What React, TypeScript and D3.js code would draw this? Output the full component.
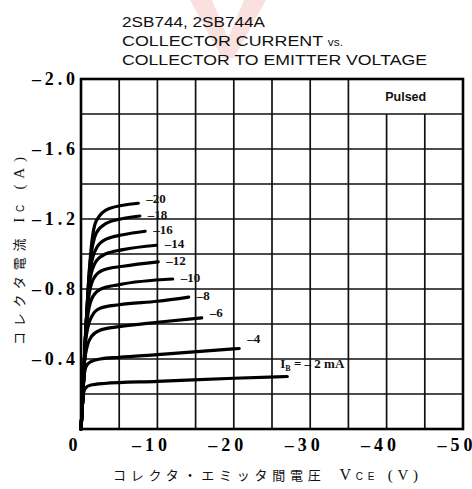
import React from "react";
import * as d3 from "d3";

// ---- data ----
const TITLE_LINES = ["2SB744, 2SB744A", "COLLECTOR CURRENT vs.", "COLLECTOR TO EMITTER VOLTAGE"];
const VCE_TICKS = [0, -10, -20, -30, -40, -50];
const VCE_GRID = [0, -5, -10, -15, -20, -25, -30, -35, -40, -45, -50];
const IC_TICKS = [-2.0, -1.6, -1.2, -0.8, -0.4];
const IC_GRID = [0, -0.2, -0.4, -0.6, -0.8, -1.0, -1.2, -1.4, -1.6, -1.8, -2.0];
const IB_LEVELS = [-2, -4, -6, -8, -10, -12, -14, -16, -18, -20];

const CURVE_IB2: [number, number][] = [[0, 0], [-0.15, -0.12], [-0.3, -0.2], [-0.6, -0.235], [-1.2, -0.25], [-3, -0.26], [-10, -0.272], [-20, -0.29], [-27, -0.3]];
const CURVE_IB4: [number, number][] = [[0, 0], [-0.2, -0.15], [-0.4, -0.3], [-0.7, -0.36], [-1.3, -0.385], [-2.5, -0.4], [-5, -0.41], [-10, -0.425], [-20.7, -0.46]];
const CURVE_IB6: [number, number][] = [[0, 0], [-0.2, -0.15], [-0.45, -0.38], [-0.8, -0.47], [-1.4, -0.53], [-2.5, -0.565], [-5, -0.585], [-10, -0.61], [-15.8, -0.635]];
const CURVE_IB8: [number, number][] = [[0, 0], [-0.2, -0.15], [-0.5, -0.45], [-0.9, -0.58], [-1.5, -0.65], [-2.5, -0.69], [-5, -0.71], [-10, -0.73], [-14.1, -0.754]];
const CURVE_IB10: [number, number][] = [[0, 0], [-0.2, -0.15], [-0.55, -0.5], [-1.0, -0.68], [-1.6, -0.76], [-2.6, -0.8], [-5, -0.825], [-12, -0.857]];
const CURVE_IB12: [number, number][] = [[0, 0], [-0.2, -0.15], [-0.6, -0.55], [-1.1, -0.78], [-1.8, -0.87], [-3, -0.91], [-5.5, -0.93], [-10.1, -0.955]];
const CURVE_IB14: [number, number][] = [[0, 0], [-0.2, -0.15], [-0.65, -0.58], [-1.2, -0.86], [-2, -0.96], [-3.2, -1.0], [-5.5, -1.025], [-9.9, -1.05]];
const CURVE_IB16: [number, number][] = [[0, 0], [-0.2, -0.15], [-0.65, -0.58], [-1.25, -0.92], [-2.1, -1.04], [-3.3, -1.085], [-5.5, -1.11], [-8.4, -1.13]];
const CURVE_IB18: [number, number][] = [[0, 0], [-0.2, -0.15], [-0.65, -0.58], [-1.2, -0.95], [-2, -1.12], [-3.3, -1.175], [-5.2, -1.2], [-7.7, -1.217]];
const CURVE_IB20: [number, number][] = [[0, 0], [-0.2, -0.15], [-0.65, -0.58], [-1.0, -0.85], [-1.35, -1.04], [-2, -1.19], [-3.7, -1.26], [-7.5, -1.29]];

const CURVES = [CURVE_IB2, CURVE_IB4, CURVE_IB6, CURVE_IB8, CURVE_IB10, CURVE_IB12, CURVE_IB14, CURVE_IB16, CURVE_IB18, CURVE_IB20];

// ---- layout ----
const W = 472, H = 489;
const LEFT = 81, RIGHT = 463, TOP = 79, BOTTOM = 429;

const minus = (v: number, digits: number) => (v === 0 ? "0" : "\u2013" + Math.abs(v).toFixed(digits));

export default function App() {
  const x = d3.scaleLinear().domain([0, -50]).range([LEFT, RIGHT]);
  const y = d3.scaleLinear().domain([0, -2]).range([BOTTOM, TOP]);
  const line = d3
    .line<[number, number]>()
    .x((d) => x(d[0]))
    .y((d) => y(d[1]))
    .curve(d3.curveMonotoneX);

  const serif = "'Liberation Serif', 'DejaVu Serif', serif";
  const sans = "'Liberation Sans', 'DejaVu Sans', sans-serif";
  const cjk = "'Noto Sans CJK JP', sans-serif";

  return (
    <svg width={W} height={H} style={{ position: "absolute", left: 0, top: 0, background: "#fff" }}>
      {/* faint watermark */}
      <path d="M190,0 L212,0 L228,38 L244,0 L266,0 L234,58 L222,58 Z" fill="#fbe0e0" />

      {/* title */}
      {TITLE_LINES.map((t, i) => {
        const widths = [143, 221, 305];
        if (i === 1) {
          return (
            <text key={i} x={122} y={27 + i * 19} fontFamily={sans} fontSize={15} fill="#111" textLength={widths[i]} lengthAdjust="spacingAndGlyphs">
              {"COLLECTOR CURRENT "}
              <tspan fontSize={10}>vs.</tspan>
            </text>
          );
        }
        return (
          <text key={i} x={122} y={27 + i * 19} fontFamily={sans} fontSize={15} fill="#111" textLength={widths[i]} lengthAdjust="spacingAndGlyphs">
            {t}
          </text>
        );
      })}

      {/* grid */}
      <g stroke="#111" strokeWidth={1.7}>
        {VCE_GRID.map((v) => {
          const inBox = v < -35 && v > -50;
          return <line key={"v" + v} x1={x(v)} x2={x(v)} y1={BOTTOM} y2={inBox ? y(-1.8) : TOP} />;
        })}
        {IC_GRID.map((c) => (
          <line key={"h" + c} x1={LEFT} x2={RIGHT} y1={y(c)} y2={y(c)} />
        ))}
      </g>
      <rect x={LEFT} y={TOP} width={RIGHT - LEFT} height={BOTTOM - TOP} fill="none" stroke="#000" strokeWidth={2.6} />

      <text x={(x(-35) + x(-50)) / 2} y={(y(-2) + y(-1.8)) / 2 + 4.5} textAnchor="middle" fontFamily={sans} fontWeight="bold" fontSize={12.5} fill="#111">
        Pulsed
      </text>

      {/* curves */}
      <g fill="none" stroke="#000" strokeWidth={3.2} strokeLinecap="round" strokeLinejoin="round">
        {CURVES.map((c, i) => (
          <path key={i} d={line(c) || ""} />
        ))}
      </g>

      {/* curve labels */}
      {CURVES.map((c, i) => {
        const end = c[c.length - 1];
        const ex = x(end[0]), ey = y(end[1]);
        const ib = IB_LEVELS[i];
        if (ib === -2) {
          return (
            <text key={i} x={ex - 7} y={ey - 9} fontFamily={serif} fontWeight="bold" fontSize={13} fill="#111">
              I<tspan fontSize={8} dy={3}>B</tspan>
              <tspan dy={-3}>{" = \u2013 2 mA"}</tspan>
            </text>
          );
        }
        const dy = ib === -4 ? -6 : ib === -6 ? -1 : ib === -20 ? 0 : 3;
        return (
          <text key={i} x={ex + 8} y={ey + dy} fontFamily={serif} fontWeight="bold" fontSize={13} fill="#111">
            {"\u2013" + Math.abs(ib)}
          </text>
        );
      })}

      {/* y tick labels */}
      {IC_TICKS.map((t) => (
        <text key={t} x={75} y={y(t) + 6} textAnchor="end" fontFamily={serif} fontWeight="bold" fontSize={18} fill="#000" textLength={43} lengthAdjust="spacing">
          {minus(t, 1)}
        </text>
      ))}

      {/* x tick labels */}
      {VCE_TICKS.map((t) => (
        <text key={t} x={x(t) - 8} y={451} textAnchor="middle" fontFamily={serif} fontWeight="bold" fontSize={18} fill="#000" textLength={t === 0 ? undefined : 35} lengthAdjust="spacing">
          {minus(t, 0)}
        </text>
      ))}

      {/* axis titles */}
      <text x={113} y={480} fontFamily={cjk} fontSize={13} fill="#111" textLength={305} lengthAdjust="spacing">
        コレクタ・エミッタ間電圧
        <tspan fontFamily={serif} fontSize={16} dx={14}>V</tspan>
        <tspan fontFamily={sans} fontSize={10}>CE</tspan>
        <tspan fontFamily={serif} fontSize={15}>{" (V)"}</tspan>
      </text>
      <text transform="translate(24,251) rotate(-90)" textAnchor="middle" fontFamily={cjk} fontSize={13} fill="#111" textLength={188} lengthAdjust="spacing">
        コレクタ電流
        <tspan fontFamily={serif} fontSize={15} dx={10}>I</tspan>
        <tspan fontFamily={sans} fontSize={10}>C</tspan>
        <tspan fontFamily={serif} fontSize={15}>{" (A)"}</tspan>
      </text>
    </svg>
  );
}
